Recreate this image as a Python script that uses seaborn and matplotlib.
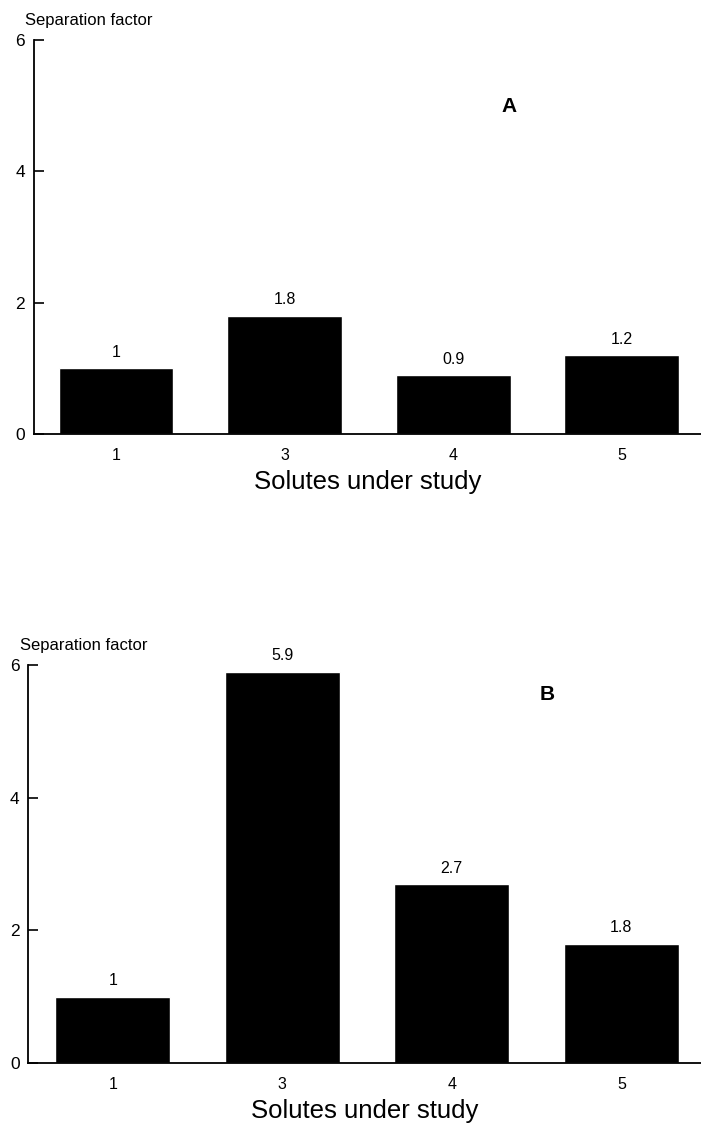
import matplotlib
matplotlib.use("Agg")
import matplotlib.pyplot as plt
import seaborn as sns
import pandas as pd

solutes = ["1", "3", "4", "5"]
values_a = [1.0, 1.8, 0.9, 1.2]
values_b = [1.0, 5.9, 2.7, 1.8]
yticks = [0, 2, 4, 6]

sns.set_theme(style="white")
plt.rcParams["font.family"] = ["Liberation Sans", "DejaVu Sans"]
plt.rcParams["text.color"] = "black"
plt.rcParams["axes.labelcolor"] = "black"
plt.rcParams["xtick.color"] = "black"
plt.rcParams["ytick.color"] = "black"

fig = plt.figure(figsize=(7.01, 11.24), dpi=100)
W, H = 701, 1124

def make_axes(left_px, top_px, bottom_px):
    return fig.add_axes([left_px / W, 1 - bottom_px / H, 1 - left_px / W, (bottom_px - top_px) / H])

ax_a = make_axes(33.5, 40, 434)
ax_b = make_axes(28, 665, 1063)

for ax, vals, letter, letter_xy, xl in [
    (ax_a, values_a, "A", (509, 106), (-0.49, 3.47)),
    (ax_b, values_b, "B", (547, 694), (-0.5, 3.47)),
]:
    df = pd.DataFrame({"solute": solutes, "value": vals})
    sns.barplot(data=df, x="solute", y="value", order=solutes, color="black",
                saturation=1, width=0.68, ax=ax, errorbar=None)
    for c in ax.containers:
        ax.bar_label(c, fmt="%g", padding=6, fontsize=11.5, color="black")
    ax.set_ylim(0, 6)
    ax.set_xlim(*xl)
    ax.set_yticks(yticks)
    ax.set_yticklabels([str(t) for t in yticks], fontsize=12.5)
    ax.tick_params(axis="y", direction="in", length=7, width=1.2, left=True, pad=6, color="black")
    ax.tick_params(axis="x", length=0, pad=10, labelsize=11.5)
    for s in ["top", "right"]:
        ax.spines[s].set_visible(False)
    for s in ["left", "bottom"]:
        ax.spines[s].set_color("black")
        ax.spines[s].set_linewidth(1.3)
    ax.set_xlabel("Solutes under study", fontsize=18.5, labelpad=5)
    ax.set_ylabel("")
    ax.text(-0.012, 1.03, "Separation factor", transform=ax.transAxes, fontsize=12,
            ha="left", va="bottom")
    fig.text(letter_xy[0] / W, 1 - letter_xy[1] / H, letter, fontsize=15,
             fontweight="bold", ha="center", va="center")

fig.savefig("out.png", dpi=100)
